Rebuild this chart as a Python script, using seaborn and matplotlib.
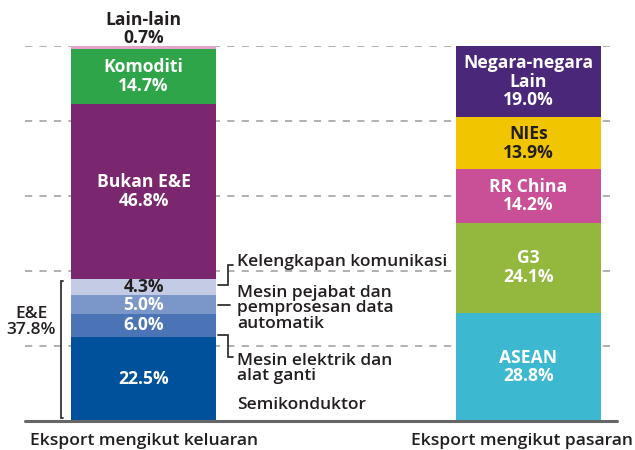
import numpy as np
import pandas as pd
import seaborn as sns
import matplotlib.pyplot as plt
from matplotlib.transforms import ScaledTranslation

# Kategori bar
kategori = ['Eksport mengikut keluaran', 'Eksport mengikut pasaran']

# Eksport mengikut keluaran (dari bawah ke atas)
seg_keluaran = ['Semikonduktor', 'Mesin elektrik dan alat ganti',
                'Mesin pejabat dan pemprosesan data automatik',
                'Kelengkapan komunikasi', 'Bukan E&E', 'Komoditi', 'Lain-lain']
nilai_keluaran = [22.5, 6.0, 5.0, 4.3, 46.8, 14.7, 0.7]
warna_keluaran = ['#00519c', '#4a74b5', '#7b96c9', '#c4cce5', '#7a276f', '#2ea548', '#e6a3c9']
nama_dalam_keluaran = ['', '', '', '', 'Bukan E&E', 'Komoditi', None]
teks_gelap_keluaran = [False, False, False, True, False, False, True]

# Eksport mengikut pasaran (dari bawah ke atas)
seg_pasaran = ['ASEAN', 'G3', 'RR China', 'NIEs', 'Negara-negara\nLain']
nilai_pasaran = [28.8, 24.1, 14.2, 13.9, 19.0]
warna_pasaran = ['#3cb9d1', '#93b83d', '#c95096', '#f1c600', '#4a2779']
teks_gelap_pasaran = [False, False, False, True, False]

ee_jumlah = 37.8

GELAP = '#231f20'
lebar = 0.377
SAIZ_DALAM = 12.6
SAIZ_NOTA = 12.5

sns.set_theme(style='white')
plt.rcParams['font.family'] = ['Open Sans', 'DejaVu Sans']

fig = plt.figure(figsize=(6.35, 4.5), dpi=100)
ax = fig.add_axes([25 / 635, 29 / 450, 592 / 635, 375 / 450])


def gambar_bar(ax, kat, nilai, warna):
    bawah = np.concatenate([[0], np.cumsum(nilai)[:-1]])
    for v, b, c in zip(nilai, bawah, warna):
        df = pd.DataFrame({'kategori': [kat], 'nilai': [v]})
        sns.barplot(data=df, x='kategori', y='nilai', order=kategori, bottom=b,
                    color=c, width=lebar, saturation=1, errorbar=None,
                    linewidth=0, ax=ax)
    return bawah


bawah_k = gambar_bar(ax, kategori[0], nilai_keluaran, warna_keluaran)
bawah_p = gambar_bar(ax, kategori[1], nilai_pasaran, warna_pasaran)

# label dalam bar keluaran
for nama, v, b, gelap in zip(nama_dalam_keluaran, nilai_keluaran, bawah_k, teks_gelap_keluaran):
    if nama is None:
        continue
    teks = f'{v:.1f}%' if nama == '' else f'{nama}\n{v:.1f}%'
    ax.text(0, b + v / 2, teks, ha='center', va='center', fontsize=SAIZ_DALAM,
            fontweight='bold', color=GELAP if gelap else 'white', linespacing=1.05)

# label dalam bar pasaran
for nama, v, b, gelap in zip(seg_pasaran, nilai_pasaran, bawah_p, teks_gelap_pasaran):
    ax.text(1, b + v / 2, f'{nama}\n{v:.1f}%', ha='center', va='center', fontsize=SAIZ_DALAM,
            fontweight='bold', color=GELAP if gelap else 'white', linespacing=1.05)

# Lain-lain di atas bar
ax.text(0, 104.6, f'Lain-lain\n{nilai_keluaran[-1]:.1f}%', ha='center', va='center',
        fontsize=SAIZ_DALAM, fontweight='bold', color=GELAP, linespacing=1.0, clip_on=False)

# anotasi kanan untuk E&E
kanan = lebar / 2
px = 1 / 385
x_teks = kanan + 21 * px
garis = dict(color='#333333', lw=1.3, clip_on=False, solid_joinstyle='miter')

tengah = bawah_k + np.array(nilai_keluaran) / 2
# Kelengkapan komunikasi
ax.plot([kanan + 2 * px, kanan + 12 * px, kanan + 12 * px, kanan + 17 * px],
        [tengah[3] + 0.6, tengah[3] + 0.6, 41.6, 41.6], **garis)
ax.text(x_teks, 42.3, seg_keluaran[3], ha='left', va='center', fontsize=SAIZ_NOTA,
        color=GELAP, fontweight='semibold')
# Mesin pejabat
ax.plot([kanan + 2 * px, kanan + 14 * px], [tengah[2] - 0.1, tengah[2] - 0.1], **garis)
ax.text(x_teks, 30.1, 'Mesin pejabat dan\npemprosesan data\nautomatik', ha='left',
        va='center', fontsize=SAIZ_NOTA, color=GELAP, fontweight='semibold', linespacing=0.95)
# Mesin elektrik
ax.plot([kanan + 2 * px, kanan + 12 * px, kanan + 12 * px, kanan + 17 * px],
        [bawah_k[1] + 0.4, bawah_k[1] + 0.4, 17.1, 17.1], **garis)
ax.text(x_teks, 14.0, 'Mesin elektrik dan\nalat ganti', ha='left', va='center',
        fontsize=SAIZ_NOTA, color=GELAP, fontweight='semibold', linespacing=0.95)
# Semikonduktor
ax.text(x_teks, 4.3, seg_keluaran[0], ha='left', va='center', fontsize=SAIZ_NOTA,
        color=GELAP, fontweight='semibold')

# kurungan E&E di kiri
kiri = -lebar / 2
ax.plot([kiri - 8 * px, kiri - 10 * px, kiri - 10 * px, kiri - 8 * px],
        [ee_jumlah - 0.4, ee_jumlah - 0.4, 0.8, 0.8], **garis)
ax.text(kiri - 40 * px, 26.4, f'E&E\n{ee_jumlah:.1f}%', ha='center', va='center',
        fontsize=SAIZ_NOTA, color=GELAP, fontweight='semibold', linespacing=1.05)

# paksi dan garisan grid
ax.set_xlim(-0.308, 1.23)
ax.set_ylim(0, 100)
ax.set_yticks([20, 40, 60, 80, 100])
ax.set_yticklabels([])
ax.yaxis.grid(True, linestyle=(0, (4, 4)), color='#aaaaaa', lw=1.3)
ax.set_axisbelow(True)
ax.axhline(0, color='#666666', lw=2.2, zorder=5, clip_on=False)
sns.despine(ax=ax, left=True, bottom=True)
ax.tick_params(axis='both', length=0)
ax.tick_params(axis='x', pad=8.5)
ax.set_xlabel('')
ax.set_ylabel('')
label_x = ax.get_xticklabels()
for lbl in label_x:
    lbl.set_fontsize(12.6)
    lbl.set_fontweight('semibold')
    lbl.set_color(GELAP)
# geser sedikit label kanan supaya tidak terpotong
label_x[1].set_transform(label_x[1].get_transform()
                         + ScaledTranslation(-7 / 100, 0, fig.dpi_scale_trans))

fig.savefig('out.png', dpi=100)
